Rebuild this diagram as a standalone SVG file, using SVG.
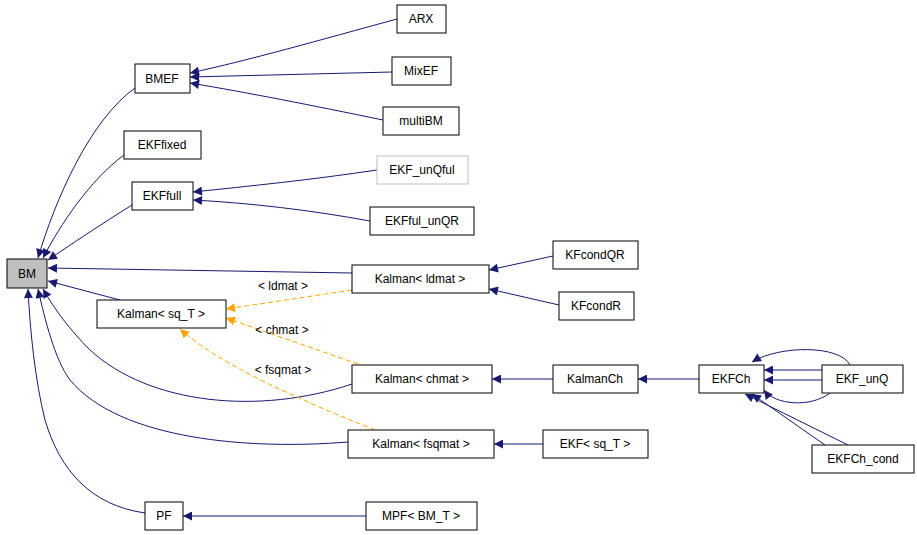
<svg xmlns="http://www.w3.org/2000/svg" width="917" height="535" viewBox="0 0 917 535">
<style>
rect.n{fill:#fff;stroke:#000;stroke-width:1}
text{font-family:"Liberation Sans",Arial,sans-serif;font-size:12px;text-anchor:middle;fill:#000}
.e{fill:none;stroke:#191970;stroke-width:1;marker-end:url(#a)}
.d{fill:none;stroke:#ffa500;stroke-width:1;stroke-dasharray:5,3;marker-end:url(#o)}
</style>
<defs>
<marker id="a" viewBox="0 0 10 10" refX="10" refY="5" markerWidth="12" markerHeight="9" orient="auto" markerUnits="userSpaceOnUse"><path d="M0,0L10,5L0,10z" fill="#191970"/></marker>
<marker id="o" viewBox="0 0 10 10" refX="10" refY="5" markerWidth="12" markerHeight="9" orient="auto" markerUnits="userSpaceOnUse"><path d="M0,0L10,5L0,10z" fill="#ffa500"/></marker>
</defs>
<rect width="917" height="535" fill="#fff"/>
<g id="edges">
<path class="e" d="M135,88C90,120 55,200 38,258"/>
<path class="e" d="M124,155C90,180 60,225 43,258"/>
<path class="e" d="M132,205C100,225 70,245 48,260"/>
<path class="e" d="M352,273L48,268"/>
<path class="e" d="M120,300L48,281"/>
<path class="e" d="M352,384C260,415 150,405 90,350C70,330 55,310 43,289"/>
<path class="e" d="M348,442C250,450 120,440 70,380C55,360 45,320 38,289"/>
<path class="e" d="M145,513C90,505 60,470 45,420C35,380 30,330 28,289"/>
<path class="e" d="M397,19C320,40 250,60 190,73"/>
<path class="e" d="M392,72L190,77"/>
<path class="e" d="M383,120C310,105 250,93 190,83"/>
<path class="e" d="M377,170C310,180 250,186 193,192"/>
<path class="e" d="M370,221C310,210 250,203 193,200"/>
<path class="e" d="M553,256L489,270"/>
<path class="e" d="M559,305L489,289"/>
<path class="e" d="M553,379L492,379"/>
<path class="e" d="M699,379L638,379"/>
<path class="e" d="M850,365C840,345 780,345 752,362"/>
<path class="e" d="M822,370L764,370"/>
<path class="e" d="M822,380L764,380"/>
<path class="e" d="M830,393C810,408 775,405 764,390"/>
<path class="e" d="M848,445L745,394"/>
<path class="e" d="M825,445L752,394"/>
<path class="e" d="M543,444L494,444"/>
<path class="e" d="M366,516L183,516"/>
<path class="d" d="M352,290L226,309"/>
<path class="d" d="M358,364L226,318"/>
<path class="d" d="M375,430C300,400 220,365 180,329"/>
<text x="283" y="290">&lt; ldmat &gt;</text>
<text x="282" y="334">&lt; chmat &gt;</text>
<text x="283" y="374">&lt; fsqmat &gt;</text>
</g>
<g id="BM"><rect x="7" y="259" width="40" height="29" fill="#bfbfbf" stroke="#000"/><text x="27" y="278">BM</text></g>
<g id="BMEF"><rect class="n" x="135" y="64" width="55" height="29"/><text x="162" y="83">BMEF</text></g>
<g id="ARX"><rect class="n" x="397" y="5" width="49" height="28"/><text x="421" y="23">ARX</text></g>
<g id="MixEF"><rect class="n" x="392" y="57" width="59" height="28"/><text x="421" y="75">MixEF</text></g>
<g id="multiBM"><rect class="n" x="383" y="107" width="76" height="28"/><text x="421" y="125">multiBM</text></g>
<g id="EKFfixed"><rect class="n" x="124" y="131" width="77" height="28"/><text x="162" y="149">EKFfixed</text></g>
<g id="EKFfull"><rect class="n" x="132" y="182" width="61" height="28"/><text x="162" y="200">EKFfull</text></g>
<g id="EKF_unQful"><rect x="377" y="156" width="91" height="28" fill="#fff" stroke="#bfbfbf"/><text x="422" y="174">EKF_unQful</text></g>
<g id="EKFful_unQR"><rect class="n" x="370" y="207" width="104" height="28"/><text x="422" y="225">EKFful_unQR</text></g>
<g id="Kalman_ldmat"><rect class="n" x="352" y="265" width="137" height="28"/><text x="420" y="283">Kalman&lt; ldmat &gt;</text></g>
<g id="KFcondQR"><rect class="n" x="553" y="241" width="85" height="28"/><text x="595" y="259">KFcondQR</text></g>
<g id="KFcondR"><rect class="n" x="559" y="292" width="75" height="28"/><text x="596" y="310">KFcondR</text></g>
<g id="Kalman_sqT"><rect class="n" x="97" y="300" width="129" height="28"/><text x="161" y="318">Kalman&lt; sq_T &gt;</text></g>
<g id="Kalman_chmat"><rect class="n" x="352" y="365" width="140" height="28"/><text x="422" y="383">Kalman&lt; chmat &gt;</text></g>
<g id="KalmanCh"><rect class="n" x="553" y="365" width="85" height="28"/><text x="595" y="383">KalmanCh</text></g>
<g id="EKFCh"><rect class="n" x="699" y="365" width="65" height="28"/><text x="731" y="383">EKFCh</text></g>
<g id="EKF_unQ"><rect class="n" x="822" y="365" width="81" height="28"/><text x="862" y="383">EKF_unQ</text></g>
<g id="EKFCh_cond"><rect class="n" x="812" y="445" width="102" height="28"/><text x="863" y="463">EKFCh_cond</text></g>
<g id="Kalman_fsqmat"><rect class="n" x="348" y="430" width="146" height="28"/><text x="421" y="448">Kalman&lt; fsqmat &gt;</text></g>
<g id="EKF_sqT"><rect class="n" x="543" y="430" width="105" height="28"/><text x="595" y="448">EKF&lt; sq_T &gt;</text></g>
<g id="PF"><rect class="n" x="145" y="502" width="38" height="28"/><text x="164" y="520">PF</text></g>
<g id="MPF"><rect class="n" x="366" y="502" width="111" height="28"/><text x="421" y="520">MPF&lt; BM_T &gt;</text></g>
</svg>
